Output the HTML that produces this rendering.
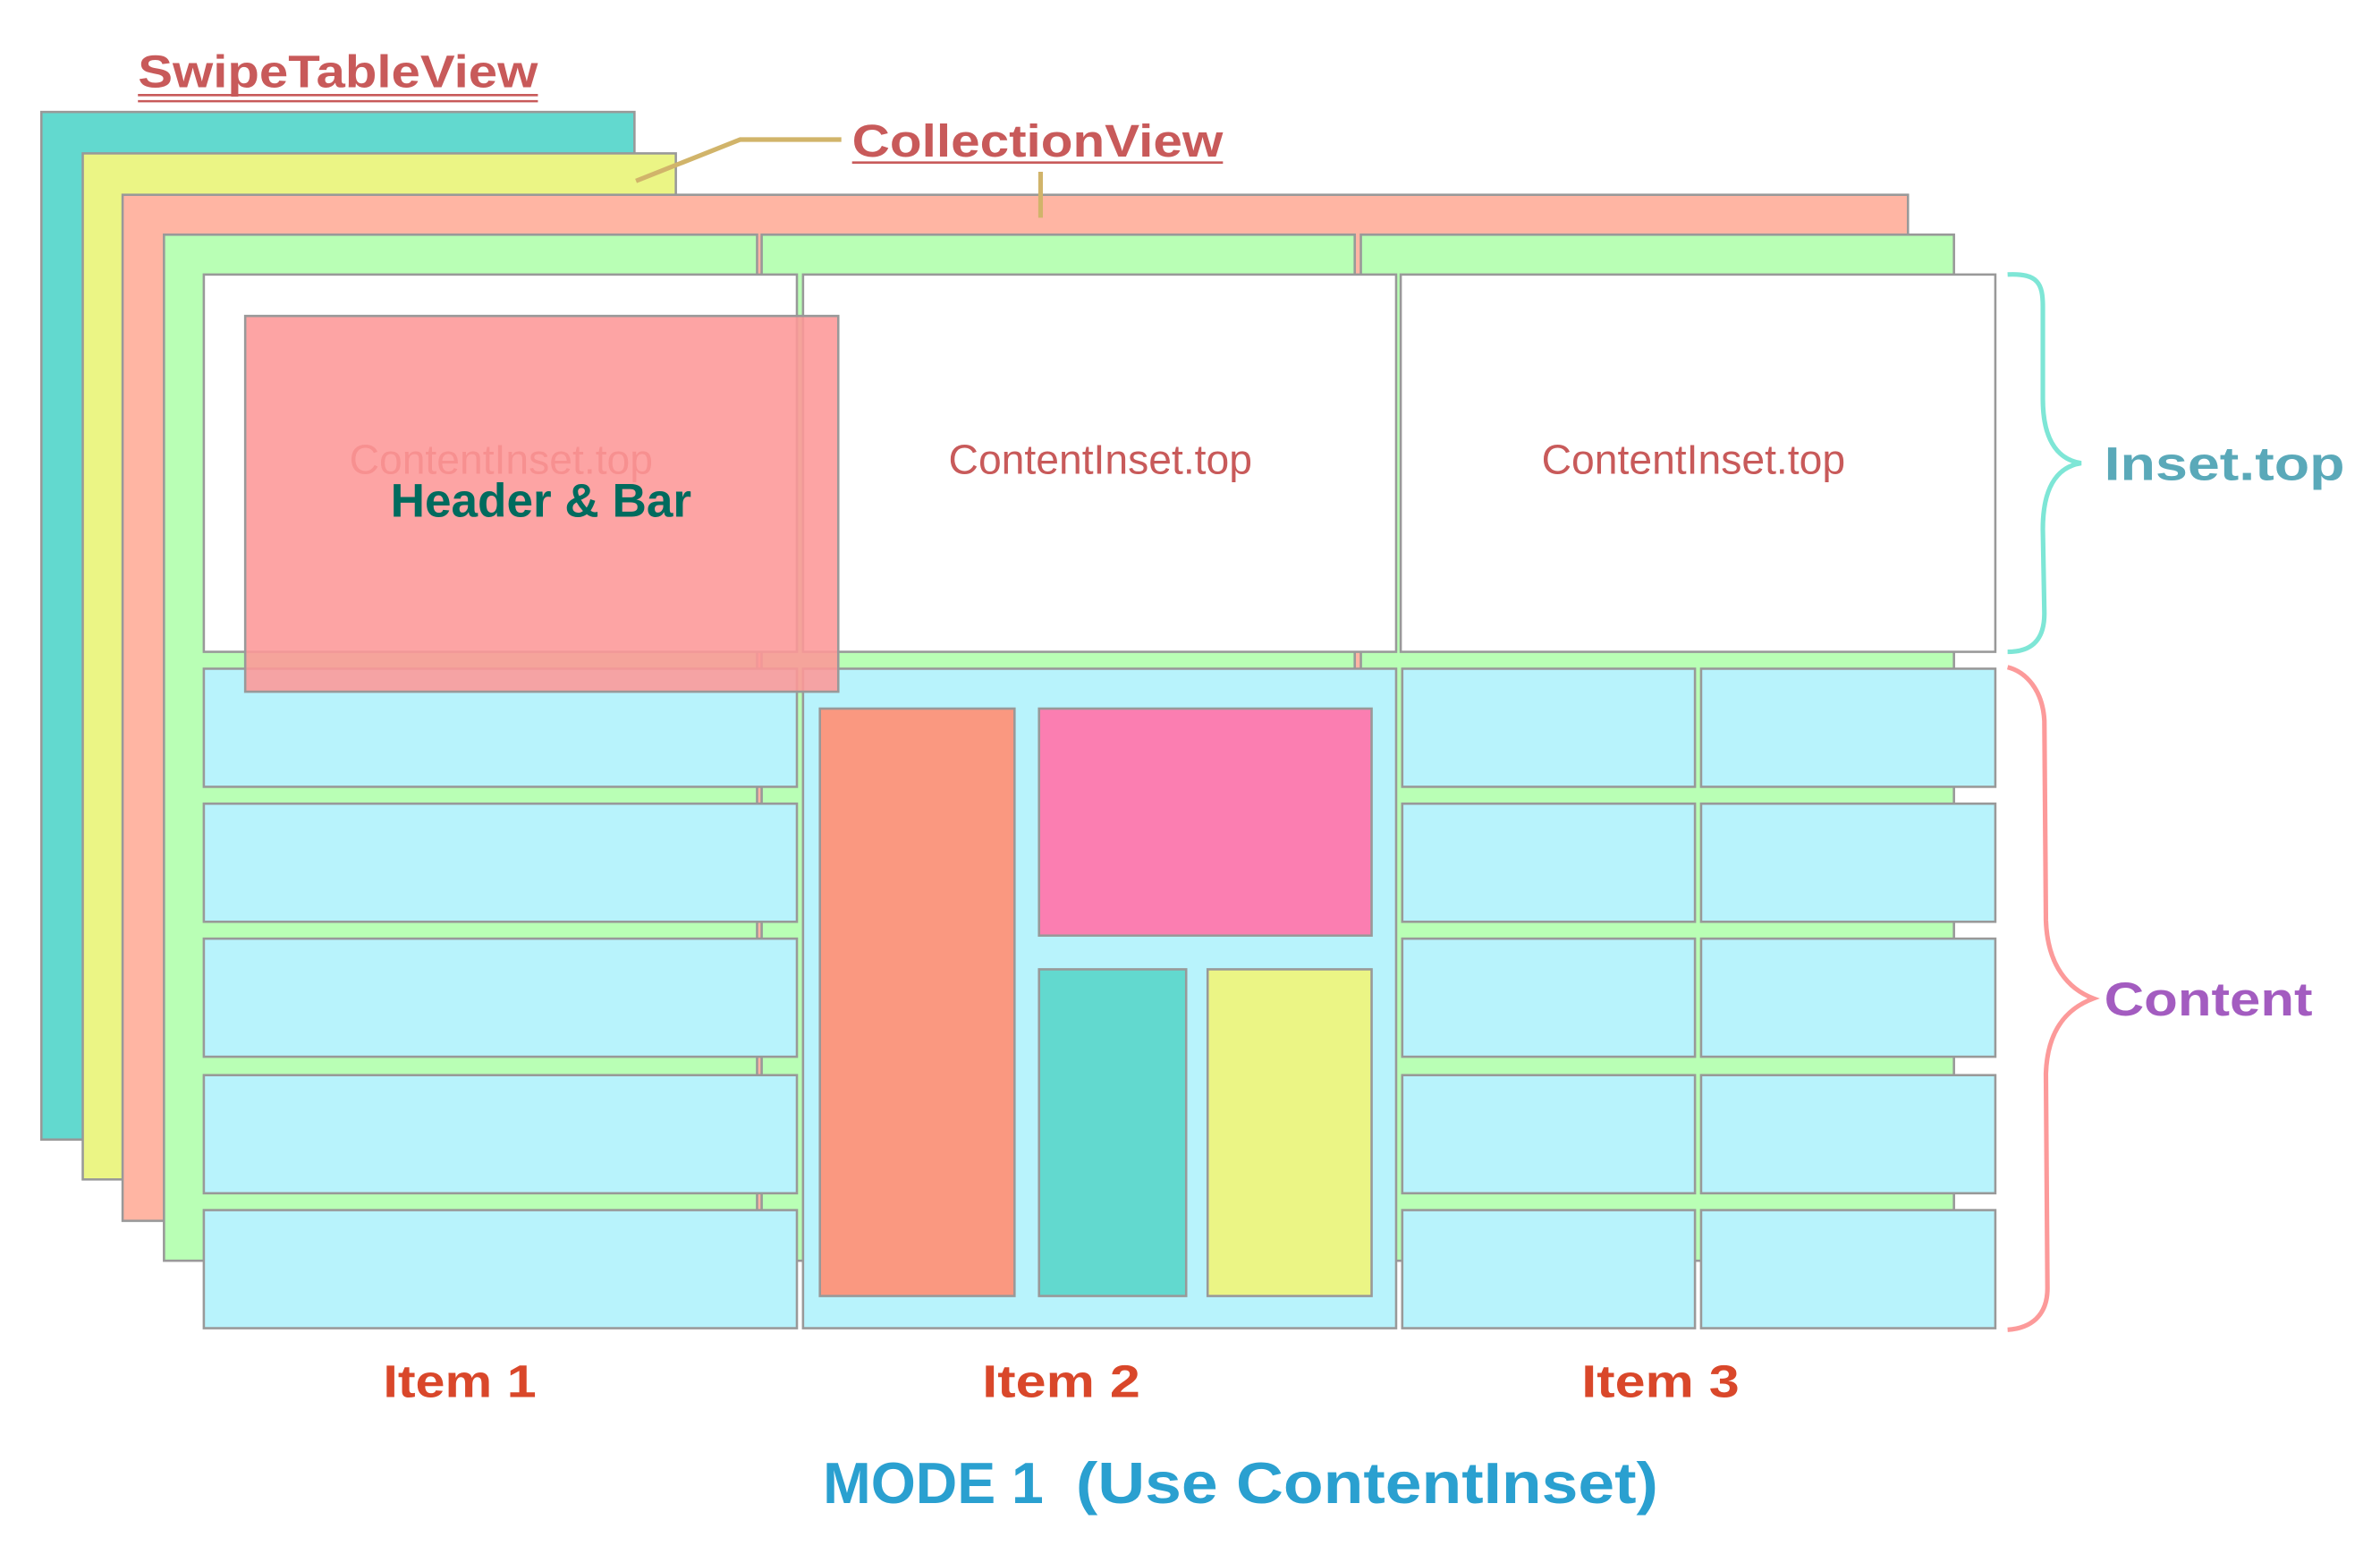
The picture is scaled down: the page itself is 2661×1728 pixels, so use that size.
<!DOCTYPE html>
<html><head><meta charset="utf-8"><style>html,body{margin:0;padding:0;background:#fff}svg{display:block}</style></head>
<body>
<svg width="2661" height="1728" viewBox="0 0 1553 1008" preserveAspectRatio="none" xmlns="http://www.w3.org/2000/svg">
<g stroke="#999" stroke-width="1.5">
<rect x="27" y="73" width="387" height="670" fill="#62d9cf"/>
<rect x="54" y="100" width="387" height="669" fill="#ebf585"/>
<rect x="80" y="127" width="1165" height="669" fill="#ffb5a3"/>
<rect x="107" y="153" width="387" height="669" fill="#b9ffb5"/>
<rect x="497" y="153" width="387" height="669" fill="#b9ffb5"/>
<rect x="888" y="153" width="387" height="669" fill="#b9ffb5"/>
<rect x="133" y="179" width="387" height="246" fill="#fff"/>
<rect x="524" y="179" width="387" height="246" fill="#fff"/>
<rect x="914" y="179" width="388" height="246" fill="#fff"/>
<g fill="#b8f3fc">
<rect x="133" y="436" width="387" height="77"/>
<rect x="133" y="524" width="387" height="77"/>
<rect x="133" y="612" width="387" height="77"/>
<rect x="133" y="701" width="387" height="77"/>
<rect x="133" y="789" width="387" height="77"/>
<rect x="524" y="436" width="387" height="430"/>
<rect x="915" y="436" width="191" height="77"/><rect x="1110" y="436" width="192" height="77"/>
<rect x="915" y="524" width="191" height="77"/><rect x="1110" y="524" width="192" height="77"/>
<rect x="915" y="612" width="191" height="77"/><rect x="1110" y="612" width="192" height="77"/>
<rect x="915" y="701" width="191" height="77"/><rect x="1110" y="701" width="192" height="77"/>
<rect x="915" y="789" width="191" height="77"/><rect x="1110" y="789" width="192" height="77"/>
</g>
<rect x="535" y="462" width="127" height="383" fill="#fa9880"/>
<rect x="678" y="462" width="217" height="148" fill="#fb7eb1"/>
<rect x="678" y="632" width="96" height="213" fill="#62d9cf"/>
<rect x="788" y="632" width="107" height="213" fill="#ebf585"/>
</g>
<g font-family="Liberation Sans, sans-serif" font-size="27" fill="#c85a5a" text-anchor="middle">
<text x="327" y="309">ContentInset.top</text>
<text x="718" y="309">ContentInset.top</text>
<text x="1105" y="309">ContentInset.top</text>
</g>
<rect x="160" y="206" width="387" height="245" fill="#fd9797" fill-opacity="0.88" stroke="#999" stroke-width="1.5"/>
<text x="353" y="337" font-family="Liberation Sans, sans-serif" font-weight="bold" font-size="31" fill="#006b5e" text-anchor="middle">Header &amp; Bar</text>
<g font-family="Liberation Sans Narrow, Liberation Sans, sans-serif" font-weight="bold" fill="#c85a5a">
<text x="90" y="57" font-size="30" textLength="261" lengthAdjust="spacingAndGlyphs">SwipeTableView</text>
<text x="556" y="102" font-size="30" textLength="242" lengthAdjust="spacingAndGlyphs">CollectionView</text>
</g>
<g stroke="#c85a5a" stroke-width="1.5">
<line x1="90" y1="62" x2="351" y2="62"/><line x1="90" y1="66" x2="351" y2="66"/>
<line x1="556" y1="106" x2="798" y2="106"/>
</g>
<g stroke="#d1b46a" stroke-width="3" fill="none">
<polyline points="415,118 483,91 549,91"/>
<line x1="679" y1="112" x2="679" y2="142"/>
</g>
<path d="M1310,179 C1330,178 1333,185 1333,200 L1333,260 C1333,290 1345,300 1358,302 C1345,304 1333,314 1333,345 L1334,400 C1334,418 1325,425 1310,425" stroke="#7ee6d6" stroke-width="3" fill="none"/>
<path d="M1310,435 C1322,438 1333,450 1334,470 L1335,600 C1336,630 1350,645 1366,651 C1350,657 1336,670 1335,700 L1336,840 C1336,858 1325,866 1310,867" stroke="#fc9a9a" stroke-width="3" fill="none"/>
<g font-family="Liberation Sans, sans-serif" font-weight="bold" font-size="31">
<text x="1373" y="313" fill="#5aa9b9" textLength="157" lengthAdjust="spacingAndGlyphs">Inset.top</text>
<text x="1373" y="662" fill="#a35cc0" textLength="136" lengthAdjust="spacingAndGlyphs">Content</text>
</g>
<g font-family="Liberation Sans Narrow, Liberation Sans, sans-serif" font-weight="bold" font-size="30" fill="#d9472a">
<text x="250" y="911" textLength="100" lengthAdjust="spacingAndGlyphs">Item 1</text>
<text x="641" y="911" textLength="103" lengthAdjust="spacingAndGlyphs">Item 2</text>
<text x="1032" y="911" textLength="103" lengthAdjust="spacingAndGlyphs">Item 3</text>
</g>
<g font-family="Liberation Sans Narrow, Liberation Sans, sans-serif" font-weight="bold" font-size="38" fill="#2aa0d0">
<text x="537" y="980" textLength="144" lengthAdjust="spacingAndGlyphs">MODE 1</text>
<text x="702" y="980" textLength="380" lengthAdjust="spacingAndGlyphs">(Use ContentInset)</text>
</g>
</svg>
</body></html>
